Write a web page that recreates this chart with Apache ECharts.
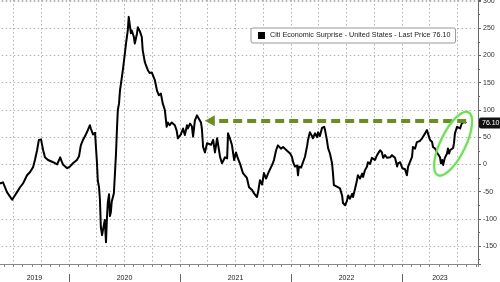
<!DOCTYPE html>
<html>
<head>
<meta charset="utf-8">
<script src="https://cdn.jsdelivr.net/npm/echarts@6/dist/echarts.min.js"></script>
<style>
html,body{margin:0;padding:0;background:#fff;}
#chart{width:500px;height:282px;}
</style>
</head>
<body>
<div id="chart"></div>
<script>
// ---- Data: Citi Economic Surprise Index - United States ----
const dates2019 = ['2019-05-19','2019-05-29','2019-06-11','2019-06-28','2019-07-04','2019-07-14','2019-07-24','2019-08-03','2019-08-16','2019-08-26','2019-09-05','2019-09-11','2019-09-18','2019-09-24','2019-10-01','2019-10-08','2019-10-14','2019-10-24','2019-11-10','2019-11-23','2019-12-03','2019-12-09','2019-12-12','2019-12-26'];
const values2019 = [-35,-33,-51,-65,-63,-51,-42,-35,-20,-14,-5,8,26,45,46,26,13,8,4,0,13,4,0,-7];

const dates2020 = ['2020-01-04','2020-01-14','2020-01-27','2020-02-03','2020-02-09','2020-02-16','2020-02-23','2020-02-29','2020-03-10','2020-03-13','2020-03-20','2020-03-27','2020-03-30','2020-04-02','2020-04-05','2020-04-09','2020-04-12','2020-04-15','2020-04-19','2020-04-22','2020-04-25','2020-04-28','2020-05-02','2020-05-05','2020-05-08','2020-05-12','2020-05-15','2020-05-18','2020-05-21','2020-05-28','2020-06-04','2020-06-07','2020-06-10','2020-06-14','2020-06-17','2020-06-27','2020-07-07','2020-07-13','2020-07-16','2020-07-23','2020-07-26','2020-08-02','2020-08-05','2020-08-12','2020-08-15','2020-08-22','2020-08-28','2020-08-31','2020-09-07','2020-09-10','2020-09-17','2020-09-23','2020-09-30','2020-10-10','2020-10-17','2020-10-23','2020-10-30','2020-11-05','2020-11-12','2020-11-18','2020-11-22','2020-11-28','2020-12-05','2020-12-15','2020-12-21','2020-12-25'];
const values2020 = [-4,2,8,15,35,45,52,59,72,66,55,58,30,5,-30,-42,-65,-115,-130,-128,-133,-102,-143,-100,-70,-55,-95,-88,-68,-53,20,63,100,112,135,175,222,247,271,241,246,234,222,240,252,244,234,210,188,185,173,168,169,155,136,127,130,112,100,69,77,72,77,72,62,48];

const dates2021 = ['2021-01-04','2021-01-11','2021-01-17','2021-01-24','2021-01-27','2021-02-03','2021-02-09','2021-02-13','2021-02-19','2021-02-26','2021-03-04','2021-03-11','2021-03-14','2021-03-18','2021-03-24','2021-03-31','2021-04-06','2021-04-13','2021-04-20','2021-04-26','2021-05-03','2021-05-09','2021-05-13','2021-05-19','2021-05-29','2021-06-05','2021-06-08','2021-06-14','2021-06-21','2021-06-28','2021-07-04','2021-07-11','2021-07-17','2021-07-27','2021-08-09','2021-08-16','2021-08-26','2021-09-01','2021-09-11','2021-09-15','2021-09-21','2021-09-28','2021-10-04','2021-10-11','2021-10-18','2021-10-24','2021-10-31','2021-11-06','2021-11-13','2021-11-19','2021-11-29','2021-12-06','2021-12-19','2021-12-29'];
const values2021 = [55,66,54,72,66,75,70,51,81,90,84,77,65,32,22,39,38,36,45,22,48,45,13,2,13,11,57,48,35,8,22,10,2,-16,-25,-42,-47,-53,-60,-50,-29,-37,-16,-26,-16,-19,-1,8,26,35,29,32,25,20];

const dates2022 = ['2022-01-04','2022-01-08','2022-01-14','2022-01-21','2022-01-24','2022-01-27','2022-02-03','2022-02-09','2022-02-16','2022-02-23','2022-02-26','2022-03-04','2022-03-11','2022-03-14','2022-03-21','2022-03-28','2022-03-31','2022-04-06','2022-04-13','2022-04-20','2022-04-23','2022-04-29','2022-05-03','2022-05-09','2022-05-16','2022-05-19','2022-05-22','2022-06-01','2022-06-05','2022-06-11','2022-06-18','2022-06-21','2022-06-28','2022-07-04','2022-07-08','2022-07-14','2022-07-21','2022-07-24','2022-07-31','2022-08-06','2022-08-09','2022-08-16','2022-08-23','2022-08-26','2022-09-01','2022-09-08','2022-09-11','2022-09-18','2022-09-24','2022-09-28','2022-10-04','2022-10-11','2022-10-14','2022-10-21','2022-10-27','2022-10-31','2022-11-06','2022-11-13','2022-11-16','2022-11-23','2022-11-29','2022-12-03','2022-12-09','2022-12-16','2022-12-19','2022-12-26'];
const values2022 = [14,4,-4,-2,-20,-4,-6,-4,14,34,45,59,52,48,57,50,59,52,67,69,63,45,30,20,2,-16,-38,-41,-38,-44,-57,-71,-75,-67,-57,-63,-54,-60,-44,-29,-20,-26,-17,-23,-11,-4,4,1,12,14,8,17,14,26,22,12,17,12,15,13,17,14,12,-4,2,4];

const dates2023 = ['2023-01-02','2023-01-04','2023-01-11','2023-01-17','2023-01-21','2023-01-27','2023-02-03','2023-02-06','2023-02-13','2023-02-19','2023-02-23','2023-03-01','2023-03-08','2023-03-11','2023-03-18','2023-03-24','2023-03-28','2023-04-03','2023-04-10','2023-04-13','2023-04-20','2023-04-26','2023-04-29','2023-05-06','2023-05-09','2023-05-13','2023-05-16','2023-05-22','2023-05-29','2023-06-01','2023-06-05','2023-06-08','2023-06-14','2023-06-18','2023-06-21','2023-06-24','2023-07-01','2023-07-04','2023-07-11','2023-07-17','2023-07-21','2023-07-27','2023-07-31'];
const values2023 = [-7,-4,-9,-20,-4,-6,14,32,29,41,38,43,48,51,57,63,60,45,41,32,29,22,25,13,2,8,-1,12,20,29,20,26,24,30,39,57,69,72,66,76,73,78,76.10];

// axis labels / ticks
const yearLabels = ['2019','2020','2021','2022','2023'];
const yearLabelPositions = [2019.689, 2020.5, 2021.5, 2022.5, 2023.342];
const yearBoundaries = [2020, 2021, 2022, 2023];
const seriesTitle = 'Citi Economic Surprise - United States - Last Price';

// annotations (data space)
const arrowLevel = 80;
const arrowFrom = '2023-07-31';
const arrowTo = '2021-04-09';
const ellipseCenterDate = '2023-06-18';
const ellipseCenterValue = 38;

// ---- helpers ----
function toYear(s) {
  const [y, m, d] = s.split('-').map(Number);
  const start = Date.UTC(y, 0, 1), end = Date.UTC(y + 1, 0, 1);
  return y + (Date.UTC(y, m - 1, d) - start) / (end - start);
}
const allDates = [].concat(dates2019, dates2020, dates2021, dates2022, dates2023);
const allValues = [].concat(values2019, values2020, values2021, values2022, values2023);
const seriesData = allDates.map((d, i) => [toYear(d), allValues[i]]);
const lastValue = allValues[allValues.length - 1];
const seriesName = seriesTitle + ' ' + lastValue.toFixed(2);

const X_MIN = 2019.25, X_MAX = 2023.6847;
const Y_MIN = -183, Y_MAX = 302;
const FONT = '"Liberation Sans", Arial, sans-serif';
const gridLine = { color: '#b3b3b3', width: 1, type: [1.5, 2.5] };

const chart = echarts.init(document.getElementById('chart'), null, { renderer: 'canvas' });
chart.setOption({
  animation: false,
  backgroundColor: '#fff',
  textStyle: { fontFamily: FONT },
  grid: { left: -14.25, right: 22, top: 0, bottom: 18, containLabel: false, outerBoundsMode: 'none' },
  legend: {
    left: 251, top: 28,
    padding: [4, 5, 4, 7],
    backgroundColor: '#fff',
    borderColor: '#999', borderWidth: 1, borderRadius: 2,
    icon: 'rect', itemWidth: 7, itemHeight: 7,
    textStyle: { fontSize: 7.2, color: '#222', fontFamily: FONT },
    data: [{ name: seriesName }],
    selectedMode: false
  },
  xAxis: [
    {
      type: 'value', min: X_MIN, max: X_MAX, interval: 0.25,
      position: 'bottom',
      axisLine: { show: true, onZero: false, lineStyle: { color: '#888', width: 1 } },
      axisTick: { show: true, length: 3, lineStyle: { color: '#888' } },
      minorTick: { show: true, splitNumber: 3, length: 3, lineStyle: { color: '#888' } },
      axisLabel: { show: false },
      splitLine: { show: true, lineStyle: gridLine },
      minorSplitLine: { show: false }
    },
    {
      type: 'value', min: X_MIN, max: X_MAX,
      position: 'bottom', offset: 10,
      axisLine: { show: false, onZero: false },
      axisTick: { show: true, customValues: yearBoundaries, length: 8, lineStyle: { color: '#666' } },
      axisLabel: {
        show: true, customValues: yearLabelPositions, margin: 0.5,
        fontSize: 7, color: '#222', fontFamily: FONT,
        formatter: v => yearLabels[yearLabelPositions.indexOf(v)] || String(Math.floor(v))
      },
      splitLine: { show: false }
    }
  ],
  yAxis: [
    {
      type: 'value', min: Y_MIN, max: Y_MAX, splitNumber: 10,
      position: 'right',
      axisLine: { show: true, onZero: false, lineStyle: { color: '#666', width: 1 } },
      axisTick: { show: true, length: 3, lineStyle: { color: '#666' } },
      minorTick: { show: true, splitNumber: 2, length: 2, lineStyle: { color: '#666' } },
      axisLabel: {
        margin: 5, fontSize: 7, color: '#333', fontFamily: FONT,
        formatter: v => (Math.abs(v % 50) < 1e-6 ? String(v) : '')
      },
      splitLine: { show: true, showMinLine: false, lineStyle: gridLine }
    },
    {
      type: 'value', min: Y_MIN, max: Y_MAX,
      position: 'right',
      axisLine: { show: false, onZero: false }, axisTick: { show: false }, splitLine: { show: false },
      axisLabel: {
        show: true, customValues: [lastValue], margin: 1,
        fontSize: 7, color: '#fff', fontFamily: FONT,
        backgroundColor: '#111', borderRadius: 2, padding: [2, 2, 2, 3],
        formatter: v => v.toFixed(2)
      }
    }
  ],
  series: [
    {
      name: seriesName,
      type: 'line',
      xAxisIndex: 0, yAxisIndex: 0,
      data: seriesData,
      showSymbol: false,
      symbol: 'none',
      itemStyle: { color: '#000' },
      lineStyle: { color: '#000', width: 2, join: 'round' },
      z: 3,
      markLine: {
        silent: true,
        symbol: ['none', 'triangle'],
        symbolSize: [11, 10],
        label: { show: false },
        lineStyle: { color: '#6b8e23', width: 4, type: [9, 5], opacity: 1 },
        emphasis: { disabled: true },
        data: [[
          { coord: [toYear(arrowFrom), arrowLevel] },
          { coord: [toYear(arrowTo), arrowLevel] }
        ]]
      }
    }
  ]
});

// green ellipse highlight positioned from data coordinates
const c = chart.convertToPixel({ xAxisIndex: 0, yAxisIndex: 0 }, [toYear(ellipseCenterDate), ellipseCenterValue]);
chart.setOption({
  graphic: [{
    type: 'ellipse',
    x: c[0], y: c[1],
    rotation: -26 * Math.PI / 180,
    shape: { cx: 0, cy: 0, rx: 12.5, ry: 35 },
    style: { fill: 'none', stroke: '#72dc5a', lineWidth: 2, shadowBlur: 2, shadowColor: 'rgba(110,220,90,0.6)' },
    silent: true,
    z: 10
  }]
});
</script>
</body>
</html>
